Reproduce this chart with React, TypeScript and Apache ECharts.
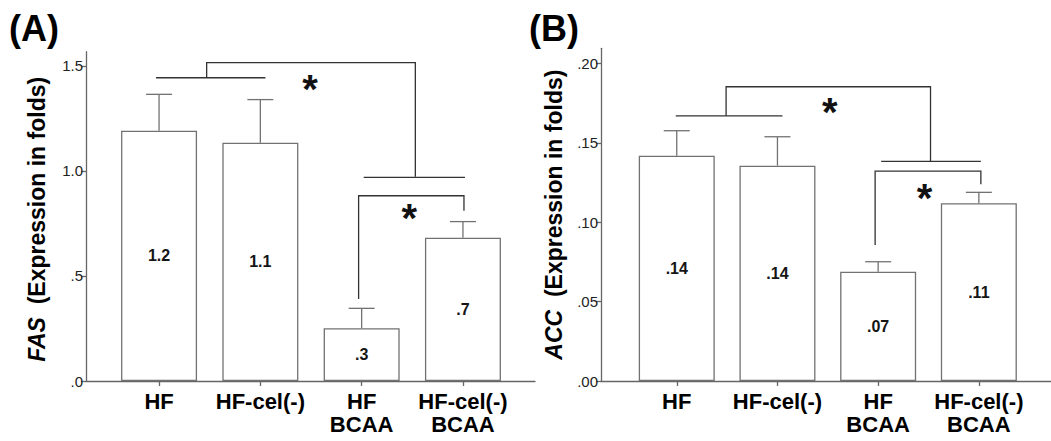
import React, { useEffect, useRef } from 'react';
import * as echarts from 'echarts';

const categories = ['HF', 'HF-cel(-)', 'HF\nBCAA', 'HF-cel(-)\nBCAA'];

const fasMean = [1.192, 1.135, 0.251, 0.682];
const fasUpper = [1.365, 1.34, 0.346, 0.759];
const fasTicks = [0, 0.5, 1.0, 1.5];
const fasMax = 1.568;

const accMean = [0.1419, 0.1356, 0.0688, 0.1119];
const accUpper = [0.1576, 0.1538, 0.0751, 0.1188];
const accTicks = [0, 0.05, 0.1, 0.15, 0.2];
const accMax = 0.2095;

// significance brackets: polylines in (category position, value)
const fasBrackets = [
  [[-0.03, 1.444], [1.05, 1.444]],
  [[0.47, 1.444], [0.47, 1.516], [2.53, 1.516], [2.53, 0.973]],
  [[2.02, 0.97], [3.02, 0.97]],
  [[1.97, 0.39], [1.97, 0.882], [3.01, 0.882], [3.01, 0.811]],
];
const fasStars = [[1.49, 1.414], [2.47, 0.8]];

const accBrackets = [
  [[-0.01, 0.1669], [1.05, 0.1669]],
  [[0.49, 0.1669], [0.49, 0.1853], [2.52, 0.1853], [2.52, 0.1383]],
  [[2.03, 0.1383], [3.02, 0.1383]],
  [[1.97, 0.0856], [1.97, 0.1322], [3.02, 0.1322], [3.02, 0.1239]],
];
const accStars = [[1.52, 0.1725], [2.46, 0.1184]];

const FONT = '"Liberation Sans", Arial, sans-serif';
const AXIS = '#666';
const BAR_EDGE = '#727272';
const INK = '#151515';

const stripZero = (v: number, d: number) => v.toFixed(d).replace(/^0\./, '.');

function panel(
  idx: number,
  outer: any,
  inner: any,
  mean: number[],
  upper: number[],
  ticks: number[],
  max: number,
  decimals: number,
  geneName: string,
  brackets: number[][][],
  stars: number[][],
  nameGap: number,
  namePad: number
) {
  const g0 = idx * 2;
  const g1 = idx * 2 + 1;
  const xBase = idx * 3;
  const yBase = idx * 2;
  const grids = [outer, inner];
  const xAxes = [
    {
      type: 'value', gridIndex: g0, min: 0, max: 1,
      axisLine: { show: true, lineStyle: { color: AXIS, width: 1.3 } },
      axisTick: { show: false }, axisLabel: { show: false }, splitLine: { show: false },
    },
    {
      type: 'category', gridIndex: g1, data: categories,
      axisLine: { show: false },
      axisTick: { show: true, alignWithLabel: true, interval: 0, length: 5, lineStyle: { color: AXIS, width: 1.3 } },
      axisLabel: {
        interval: 0, margin: 9, color: '#000', fontFamily: FONT, fontWeight: 'bold', fontSize: 22, lineHeight: 23,
      },
    },
    { type: 'value', gridIndex: g1, min: -0.5, max: 3.5, show: false },
  ];
  const yAxes = [
    {
      type: 'value', gridIndex: g0, min: 0, max,
      name: `{i|${geneName}}  (Expression in folds)`,
      nameLocation: 'middle', nameGap,
      nameTextStyle: {
        fontFamily: FONT, fontWeight: 'bold', fontSize: 23, color: '#000',
        padding: [0, namePad, 0, 0],
        rich: { i: { fontFamily: FONT, fontWeight: 'bold', fontStyle: 'italic', fontSize: 23, color: '#000' } },
      },
      axisLine: { show: true, lineStyle: { color: AXIS, width: 1.3 } },
      axisTick: { show: true, length: 5, customValues: ticks, lineStyle: { color: AXIS, width: 1.3 } },
      axisLabel: {
        customValues: ticks, margin: 3, color: '#222', fontFamily: FONT, fontSize: 15,
        formatter: (v: number) => stripZero(v, decimals),
      },
      splitLine: { show: false },
    },
    { type: 'value', gridIndex: g1, min: 0, max, show: false },
  ];
  const series: any[] = [
    {
      type: 'bar', xAxisIndex: xBase + 1, yAxisIndex: yBase + 1, data: mean, barWidth: 76,
      itemStyle: { color: '#fff', borderColor: BAR_EDGE, borderWidth: 1.3 },
      label: {
        show: true, position: 'inside', color: INK, fontFamily: FONT, fontWeight: 'bold', fontSize: 16,
        formatter: (p: any) => stripZero(p.value, decimals),
      },
    },
    {
      type: 'custom', xAxisIndex: xBase + 2, yAxisIndex: yBase + 1, clip: false,
      data: mean.map((m, i) => [i, m, upper[i]]),
      renderItem: (_p: any, api: any) => {
        const a = api.coord([api.value(0), api.value(1)]);
        const b = api.coord([api.value(0), api.value(2)]);
        const style = { stroke: BAR_EDGE, lineWidth: 1.3 };
        return {
          type: 'group',
          children: [
            { type: 'line', shape: { x1: a[0], y1: a[1], x2: b[0], y2: b[1] }, style },
            { type: 'line', shape: { x1: b[0] - 13, y1: b[1], x2: b[0] + 13, y2: b[1] }, style },
          ],
        };
      },
    },
    {
      type: 'custom', xAxisIndex: xBase + 2, yAxisIndex: yBase + 1, clip: false,
      data: brackets.map((b) => b[0]),
      renderItem: (p: any, api: any) => {
        const pts = brackets[p.dataIndex].map((pt) => api.coord(pt));
        return { type: 'polyline', shape: { points: pts }, style: { stroke: '#333', lineWidth: 1.3, fill: 'none' } };
      },
    },
    {
      type: 'custom', xAxisIndex: xBase + 2, yAxisIndex: yBase + 1, clip: false,
      data: stars,
      renderItem: (_p: any, api: any) => {
        const c = api.coord([api.value(0), api.value(1)]);
        return {
          type: 'text',
          style: {
            text: '*', x: c[0], y: c[1] + 5, align: 'center', verticalAlign: 'middle',
            fontFamily: FONT, fontWeight: 'bold', fontSize: 40, fill: '#111',
          },
        };
      },
    },
  ];
  return { grids, xAxes, yAxes, series };
}

export default function App() {
  const ref = useRef<HTMLDivElement>(null);
  useEffect(() => {
    if (!ref.current) return;
    const chart = echarts.init(ref.current, undefined, { renderer: 'svg' });
    const A = panel(
      0,
      { left: 86, top: 51.7, width: 449, height: 329.3 },
      { left: 108.4, top: 51.7, width: 405.2, height: 329.3 },
      fasMean, fasUpper, fasTicks, fasMax, 1, 'FAS', fasBrackets, fasStars, 38, 6
    );
    const B = panel(
      1,
      { left: 601, top: 48.3, width: 450, height: 332.7 },
      { left: 626.4, top: 48.3, width: 402.8, height: 332.7 },
      accMean, accUpper, accTicks, accMax, 2, 'ACC', accBrackets, accStars, 36, 0
    );
    chart.setOption({
      animation: false,
      backgroundColor: '#fff',
      grid: [...A.grids, ...B.grids],
      xAxis: [...A.xAxes, ...B.xAxes],
      yAxis: [...A.yAxes, ...B.yAxes],
      series: [...A.series, ...B.series],
      graphic: [
        { type: 'text', left: 9, top: 10, style: { text: '(A)', fontFamily: FONT, fontWeight: 'bold', fontSize: 36, fill: '#000' } },
        { type: 'text', left: 529, top: 10, style: { text: '(B)', fontFamily: FONT, fontWeight: 'bold', fontSize: 36, fill: '#000' } },
      ],
    });
    return () => chart.dispose();
  }, []);
  return <div ref={ref} style={{ position: 'fixed', left: 0, top: 0, width: 1051, height: 441 }} />;
}
